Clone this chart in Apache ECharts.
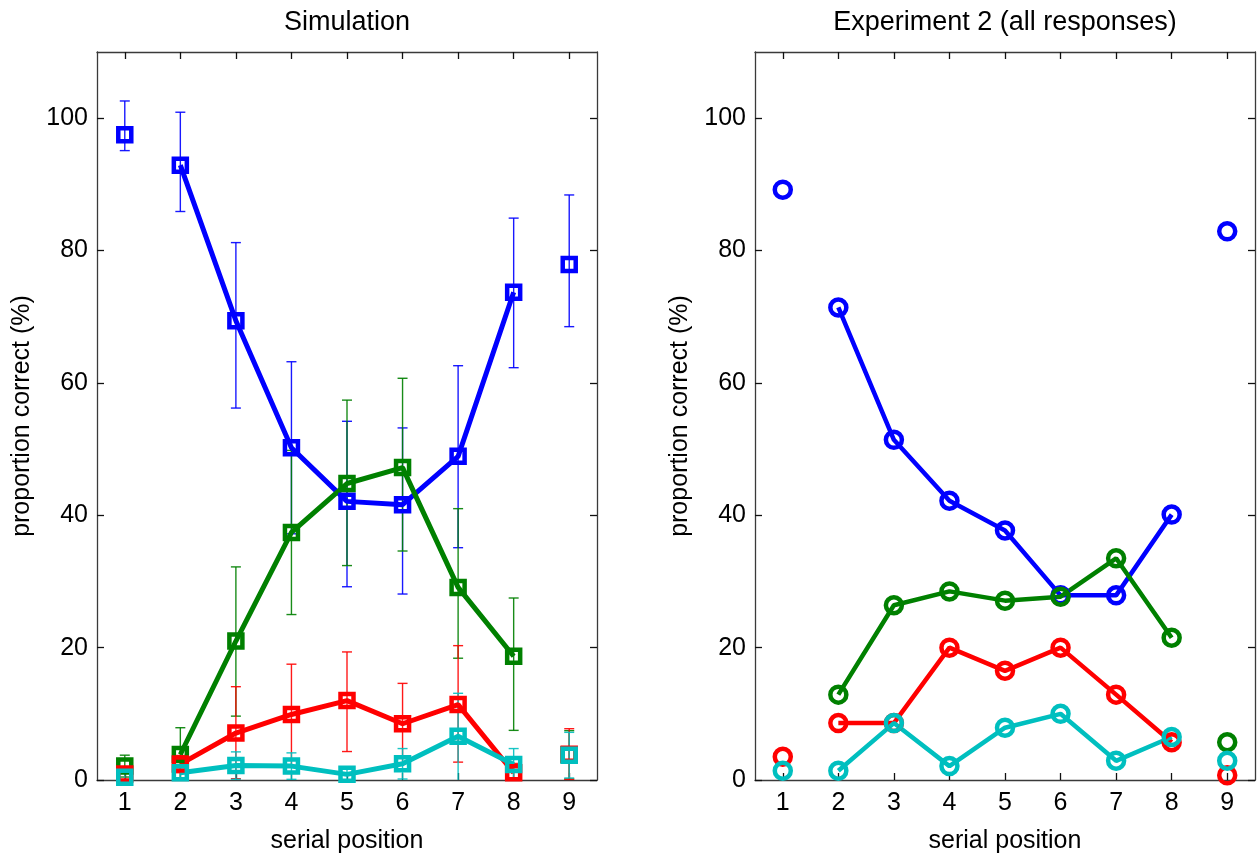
<!DOCTYPE html>
<html>
<head>
<meta charset="utf-8">
<script src="https://cdn.jsdelivr.net/npm/echarts@6/dist/echarts.min.js"></script>
<style>
  html, body { margin: 0; padding: 0; background: #fff; }
  #chart { width: 1259px; height: 859px; }
</style>
</head>
<body>
<div id="chart"></div>
<script>
// Serial positions and y-axis ticks
const positions = [1, 2, 3, 4, 5, 6, 7, 8, 9];
const yTicks = [0, 20, 40, 60, 80, 100];

// Simulation: mean proportion correct (%) and error-bar bounds, per response type
const simBlue      = [97.5, 92.9, 69.4, 50.2, 42.1, 41.6, 48.9, 73.7, 77.9];
const simBlueLow   = [95.1, 85.9, 56.2, 37.2, 29.2, 28.1, 35.1, 62.3, 68.5];
const simBlueHigh  = [102.6, 100.9, 81.2, 63.2, 54.2, 53.2, 62.6, 84.9, 88.4];

const simGreen     = [2.1, 3.85, 21.0, 37.4, 44.8, 47.2, 29.1, 18.7, 3.8];
const simGreenLow  = [0.45, 0, 9.65, 25.0, 32.4, 34.6, 18.4, 7.5, 0.15];
const simGreenHigh = [3.75, 7.9, 32.2, 49.8, 57.4, 60.7, 41.0, 27.5, 7.45];

const simRed       = [0.9, 2.4, 7.1, 9.9, 12.0, 8.5, 11.4, 1.1, 3.9];
const simRedLow    = [0, 1.1, 0.2, 2.2, 4.3, 2.6, 2.7, 0, 0.1];
const simRedHigh   = [1.6, 3.7, 14.1, 17.5, 19.35, 14.6, 20.3, 2.5, 7.75];

const simCyan      = [0.4, 1.1, 2.2, 2.1, 0.85, 2.45, 6.6, 2.35, 3.75];
const simCyanLow   = [0, 0.2, 0.1, 0.1, 0, 0.15, 0, 0, 0.3];
const simCyanHigh  = [1.0, 2.0, 4.25, 4.1, 1.8, 4.75, 13.1, 4.75, 7.2];

// Experiment 2 (all responses): observed proportions (%)
const expBlue  = [89.2, 71.4, 51.4, 42.2, 37.7, 27.9, 27.9, 40.1, 82.9];
const expGreen = [null, 12.9, 26.4, 28.5, 27.1, 27.7, 33.5, 21.5, 5.7];
const expRed   = [3.5, 8.6, 8.6, 20.0, 16.5, 20.0, 12.9, 5.7, 0.7];
const expCyan  = [1.4, 1.4, 8.6, 2.1, 7.9, 10.0, 2.9, 6.5, 2.9];

const COLORS = { blue: '#0000ff', green: '#008000', red: '#ff0000', cyan: '#00bfbf' };
const FONT = '"Liberation Sans", Arial, Helvetica, sans-serif';
const AXIS_COLOR = '#3a3a3a';

function xAxis(gridIndex, position, withLabels) {
  return {
    type: 'value', gridIndex, position,
    min: 0.5, max: 9.5,
    name: withLabels ? 'serial position' : '',
    nameLocation: 'middle', nameGap: 49,
    nameTextStyle: { fontFamily: FONT, fontSize: 25, color: '#000' },
    axisLine: { show: true, onZero: false, lineStyle: { color: AXIS_COLOR, width: 1.3 } },
    axisTick: { show: true, inside: true, length: 7, customValues: positions,
                lineStyle: { color: '#111', width: 1.3 } },
    axisLabel: { show: withLabels, customValues: positions, margin: 11,
                 fontFamily: FONT, fontSize: 25, color: '#000' },
    splitLine: { show: false }
  };
}

function yAxis(gridIndex, position, withLabels) {
  return {
    type: 'value', gridIndex, position,
    min: 0, max: 110,
    name: withLabels ? 'proportion correct (%)' : '',
    nameLocation: 'middle', nameGap: 62, nameRotate: 90,
    nameTextStyle: { fontFamily: FONT, fontSize: 25, color: '#000' },
    axisLine: { show: true, onZero: false, lineStyle: { color: AXIS_COLOR, width: 1.3 } },
    axisTick: { show: true, inside: true, length: 7, customValues: yTicks,
                lineStyle: { color: '#111', width: 1.3 } },
    axisLabel: { show: withLabels, customValues: yTicks, margin: 9,
                 fontFamily: FONT, fontSize: 25, color: '#000' },
    splitLine: { show: false }
  };
}

// Points connected by a line (positions 2..8) and the unconnected end points (1 and 9)
function inner(values) {
  const out = [];
  for (let i = 1; i < 8; i++) if (values[i] != null) out.push([positions[i], values[i]]);
  return out;
}
function ends(values) {
  const out = [];
  [0, 8].forEach(i => { if (values[i] != null) out.push([positions[i], values[i]]); });
  return out;
}

function errorBars(axisIdx, color, low, high) {
  return {
    type: 'custom', xAxisIndex: axisIdx, yAxisIndex: axisIdx,
    silent: true,
    data: positions.map((p, i) => [p, low[i], high[i]]),
    renderItem: function (params, api) {
      const x = api.value(0), lo = api.value(1), hi = api.value(2);
      const pLo = api.coord([x, Math.max(lo, 0)]);
      const pHi = api.coord([x, hi]);
      const hw = 5;
      const style = { stroke: color, lineWidth: 1.4, opacity: 0.9 };
      const children = [
        { type: 'line', shape: { x1: pLo[0], y1: pLo[1], x2: pHi[0], y2: pHi[1] }, style },
        { type: 'line', shape: { x1: pHi[0] - hw, y1: pHi[1], x2: pHi[0] + hw, y2: pHi[1] }, style }
      ];
      if (lo > 0) {
        children.push({ type: 'line', shape: { x1: pLo[0] - hw, y1: pLo[1], x2: pLo[0] + hw, y2: pLo[1] }, style });
      }
      return { type: 'group', children };
    }
  };
}

function curve(axisIdx, color, values, symbol, size, width, border) {
  const markerStyle = { color: 'rgba(255,255,255,0)', borderColor: color, borderWidth: border, opacity: 1 };
  return [
    {
      type: 'line', xAxisIndex: axisIdx, yAxisIndex: axisIdx,
      data: inner(values), symbol, symbolSize: size, showAllSymbol: true,
      lineStyle: { color, width }, itemStyle: markerStyle,
      animation: false, silent: true, emphasis: { disabled: true }
    },
    {
      type: 'scatter', xAxisIndex: axisIdx, yAxisIndex: axisIdx,
      data: ends(values), symbol, symbolSize: size,
      itemStyle: markerStyle, animation: false, silent: true, emphasis: { disabled: true }
    }
  ];
}

const sim = [
  ['blue', simBlue, simBlueLow, simBlueHigh],
  ['green', simGreen, simGreenLow, simGreenHigh],
  ['red', simRed, simRedLow, simRedHigh],
  ['cyan', simCyan, simCyanLow, simCyanHigh]
];
const exp = [
  ['blue', expBlue], ['green', expGreen], ['red', expRed], ['cyan', expCyan]
];

const series = [];
sim.forEach(([c, v, lo, hi]) => {
  series.push(errorBars(0, COLORS[c], lo, hi));
  series.push(...curve(0, COLORS[c], v, 'rect', 13, 5, 4.5));
});
exp.forEach(([c, v]) => {
  series.push(...curve(2, COLORS[c], v, 'circle', 16, 4.5, 4.5));
});

const chart = echarts.init(document.getElementById('chart'), null, { renderer: 'canvas' });
chart.setOption({
  animation: false,
  backgroundColor: '#fff',
  title: [
    { text: 'Simulation', left: 342, top: 4, textAlign: 'center',
      textStyle: { fontFamily: FONT, fontSize: 27, fontWeight: 'normal', color: '#000' } },
    { text: 'Experiment 2 (all responses)', left: 1000, top: 4, textAlign: 'center',
      textStyle: { fontFamily: FONT, fontSize: 27, fontWeight: 'normal', color: '#000' } }
  ],
  grid: [
    { left: 97, top: 52, width: 500, height: 734 },
    { left: 755, top: 52, width: 500, height: 734 }
  ],
  xAxis: [
    xAxis(0, 'bottom', true), xAxis(0, 'top', false),
    xAxis(1, 'bottom', true), xAxis(1, 'top', false)
  ],
  yAxis: [
    yAxis(0, 'left', true), yAxis(0, 'right', false),
    yAxis(1, 'left', true), yAxis(1, 'right', false)
  ],
  series
});
</script>
</body>
</html>
